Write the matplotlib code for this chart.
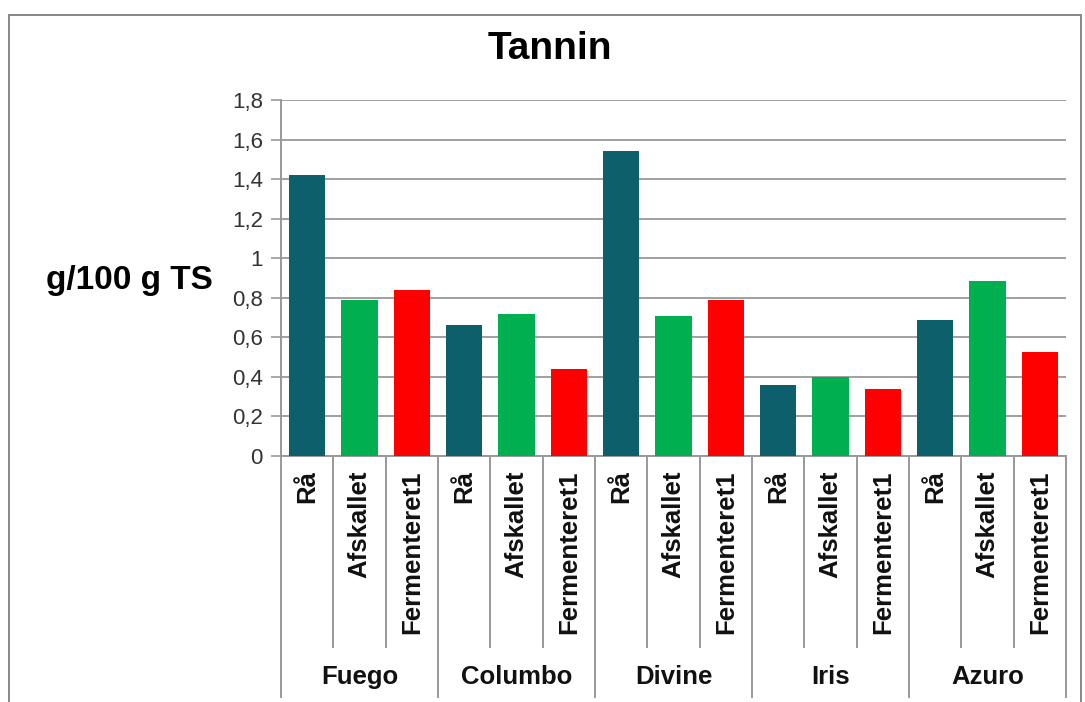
import numpy as np
from matplotlib import pyplot as plt
from matplotlib.patches import Rectangle

# Data
groups = ['Fuego', 'Columbo', 'Divine', 'Iris', 'Azuro']
treatments = ['Rå', 'Afskallet', 'Fermenteret1']
raa = [1.42, 0.66, 1.54, 0.36, 0.69]
afskallet = [0.79, 0.72, 0.71, 0.40, 0.885]
fermenteret = [0.84, 0.44, 0.79, 0.34, 0.525]
colors = ['#0E5F6C', '#00B050', '#FF0000']
yticks = [0, 0.2, 0.4, 0.6, 0.8, 1.0, 1.2, 1.4, 1.6, 1.8]
ytick_labels = ['0', '0,2', '0,4', '0,6', '0,8', '1', '1,2', '1,4', '1,6', '1,8']

plt.rcParams['font.family'] = ['Liberation Sans', 'DejaVu Sans']

W, H = 1085, 702
fig = plt.figure(figsize=(W / 100, H / 100), dpi=100)
ax = fig.add_axes([281 / W, 1 - 456 / H, (1066 - 281) / W, 356 / H])

series = [raa, afskallet, fermenteret]
n_t = len(treatments)
for gi in range(len(groups)):
    for ti in range(n_t):
        x = gi * n_t + ti
        ax.bar(x, series[ti][gi], width=0.69, color=colors[ti], zorder=3)

n = len(groups) * n_t
ax.set_xlim(-0.5, n - 0.5)
ax.set_ylim(0, 1.8)
ax.set_yticks(yticks)
ax.set_yticklabels(ytick_labels, fontsize=16, color='#333333')
ax.tick_params(axis='y', length=7, width=1.2, color='#999999', pad=6)
ax.set_xticks([])
ax.grid(axis='y', color='#A0A0A0', linewidth=1.4, zorder=0)
for s in ['top', 'right']:
    ax.spines[s].set_visible(False)
for s in ['left', 'bottom']:
    ax.spines[s].set_color('#999999')
    ax.spines[s].set_linewidth(1.4)

# multi-level category axis
trans = ax.get_xaxis_transform()
sub_bottom = -(647 - 456) / 356
grp_bottom = -(697 - 456) / 356
for i in range(n + 1):
    xb = i - 0.5
    yb = grp_bottom if i % n_t == 0 else sub_bottom
    ax.plot([xb, xb], [0, yb], transform=trans, color='#999999',
            linewidth=1.4, clip_on=False)
for gi, g in enumerate(groups):
    for ti, t in enumerate(treatments):
        x = gi * n_t + ti
        ax.text(x, -14 / 356, t, transform=trans, rotation=90, ha='center',
                va='top', fontsize=18.5, fontweight='bold', color='#111111')
    ax.text(gi * n_t + 1, -(677 - 456) / 356, g, transform=trans,
            ha='center', va='center', fontsize=18.5, fontweight='bold',
            color='#111111')

fig.text(550 / W, 1 - 49 / H, 'Tannin', ha='center', va='center',
         fontsize=28, fontweight='bold')
fig.text(129 / W, 1 - 281 / H, 'g/100 g TS', ha='center', va='center',
         fontsize=24, fontweight='bold')

# chart area border
fig.patches.append(Rectangle((9 / W, -0.01), (1081 - 9) / W, 1 - 15 / H + 0.01,
                             transform=fig.transFigure, fill=False,
                             edgecolor='#888888', linewidth=1.4))

fig.savefig('out.png', dpi=100)
